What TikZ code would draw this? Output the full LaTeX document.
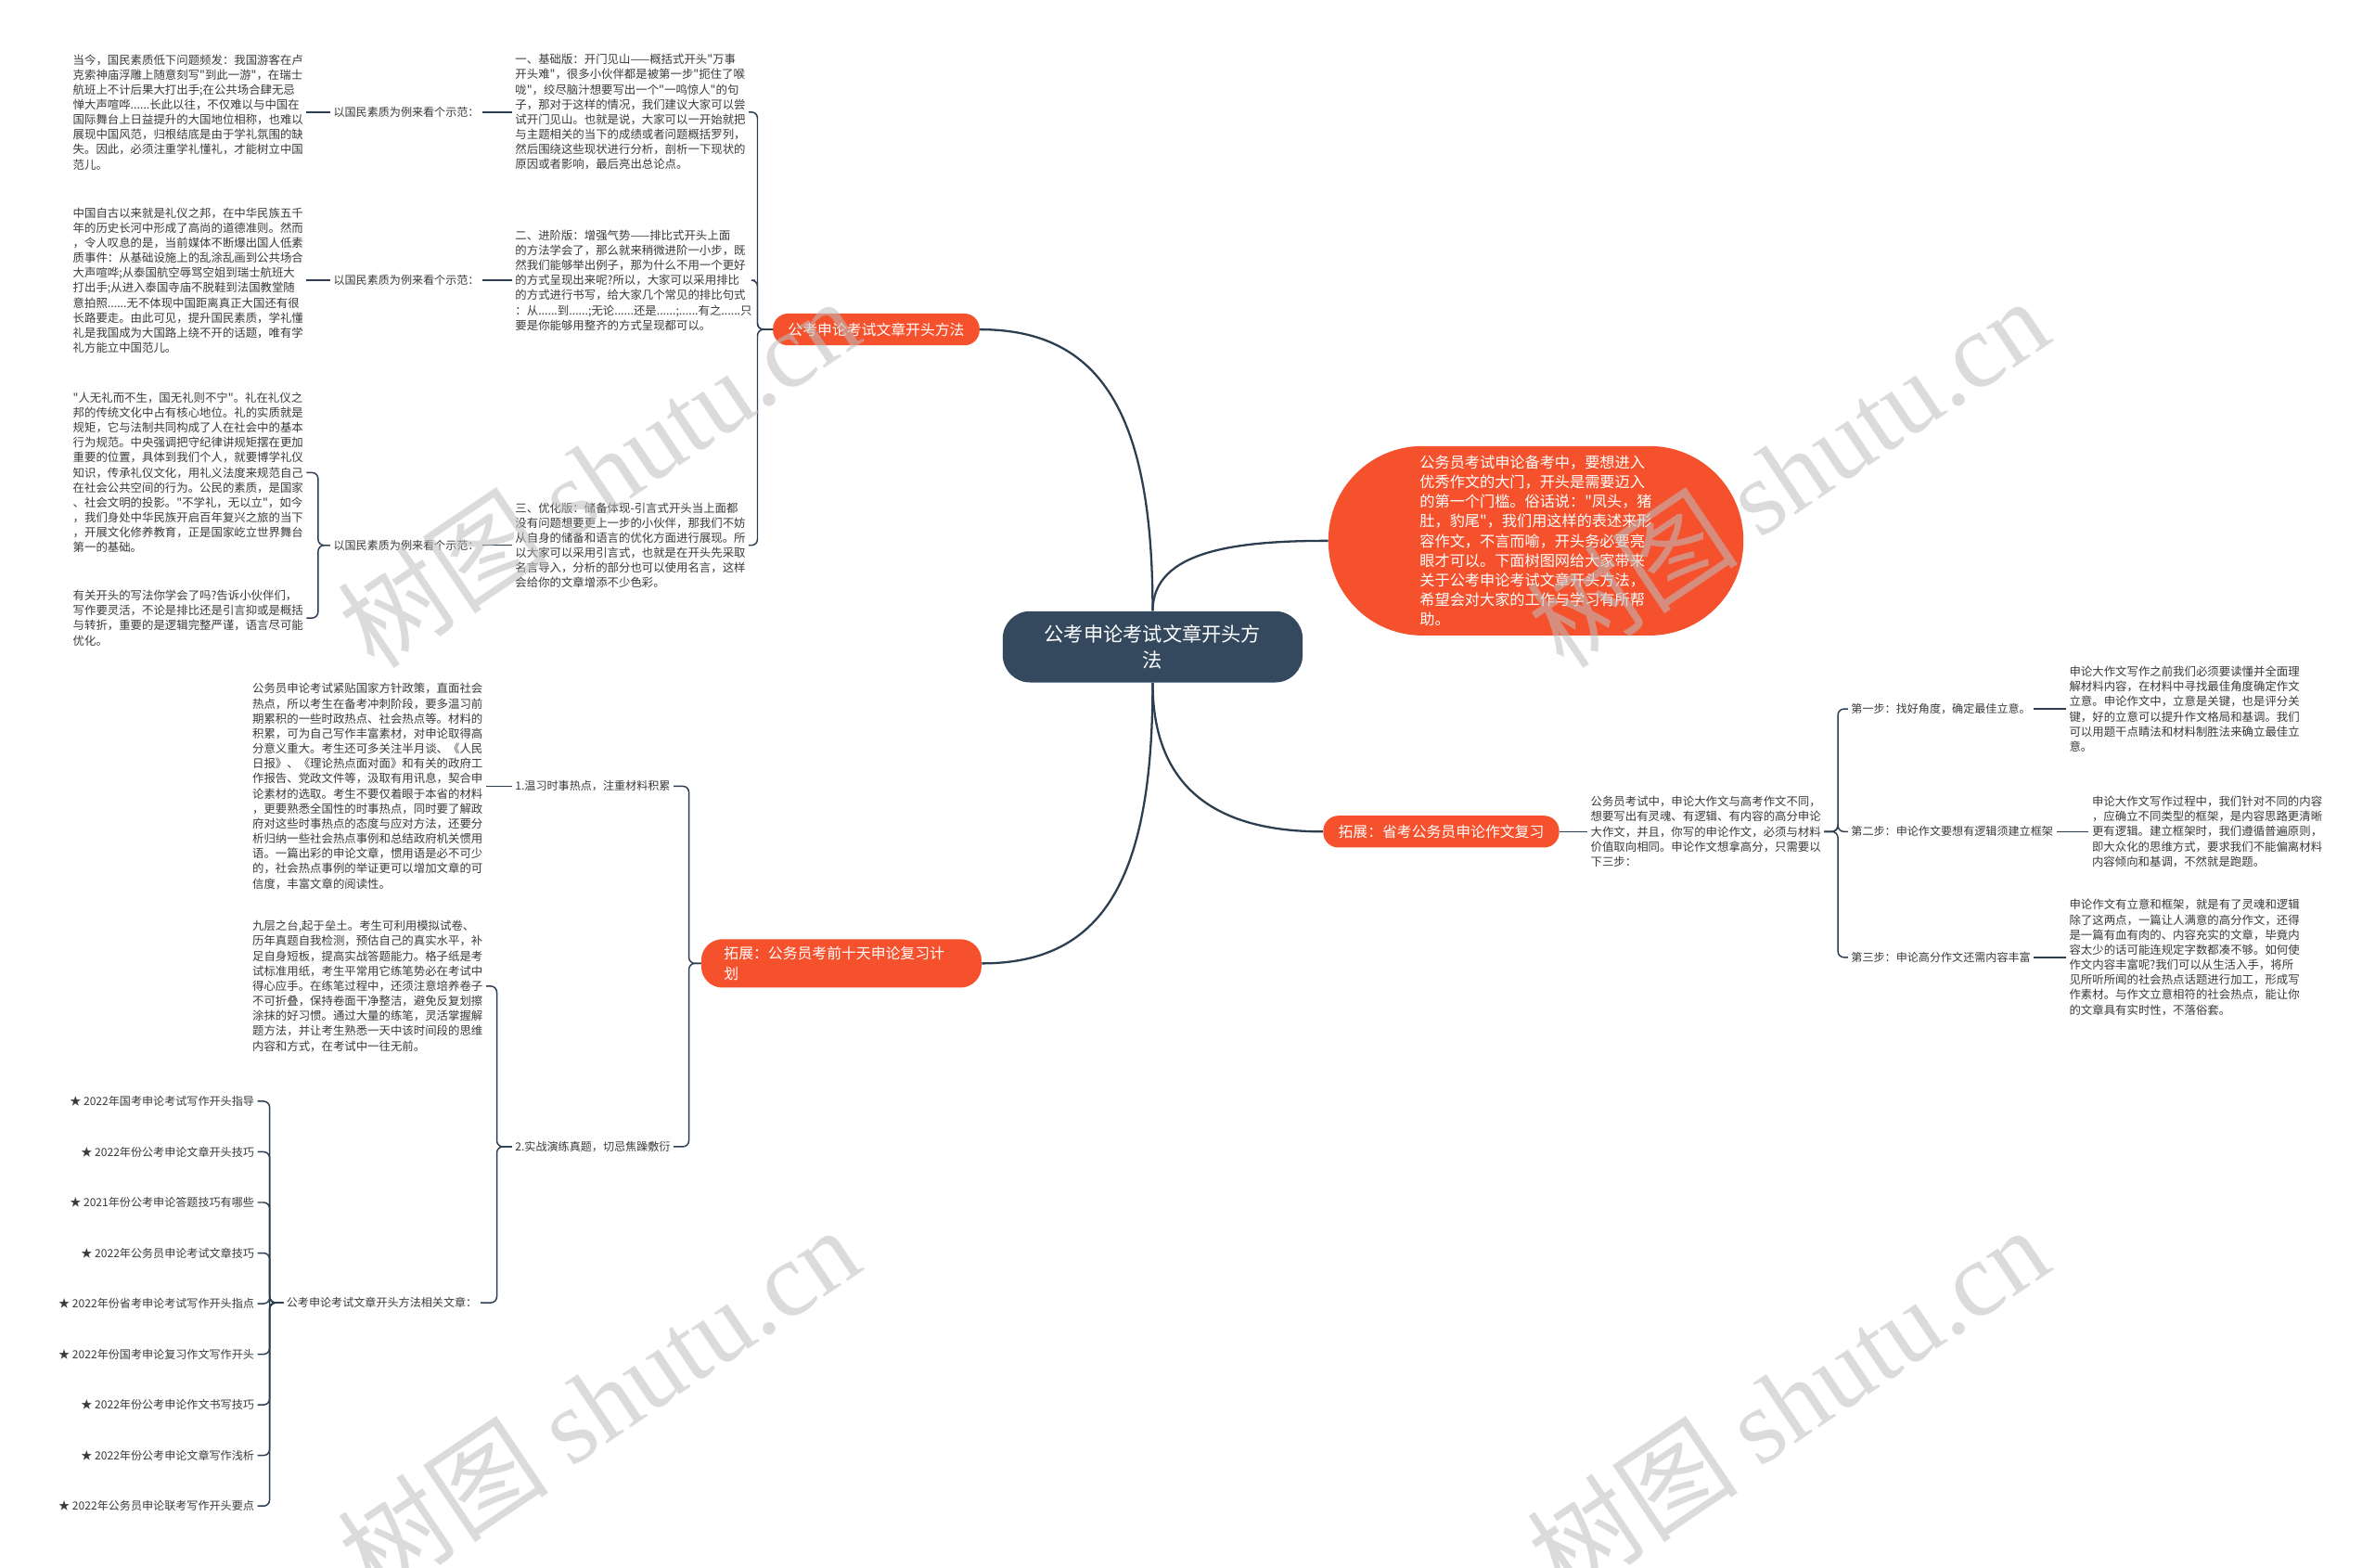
\documentclass[tikz,border=0pt]{standalone}
\usepackage{fontspec}
\setmainfont{Noto Sans CJK SC}[Ligatures=TeXOff]
\newfontfamily\wmlatin{Liberation Serif}
\usetikzlibrary{calc}
\definecolor{rootblue}{HTML}{34495E}
\definecolor{branchred}{HTML}{F5512D}
\definecolor{linkgray}{HTML}{2C3E50}
\definecolor{textgray}{HTML}{3A3A3A}

\tikzset{
  rootbox/.style={fill=rootblue, text=white, rounded corners=18pt, minimum width=198pt,
    minimum height=47pt, align=center, font=\fontsize{13}{17}\selectfont},
  branchbox/.style={fill=branchred, text=white, rounded corners=10pt, inner xsep=10pt,
    minimum height=21pt, font=\fontsize{9.7}{14}\selectfont},
  pillbox/.style={fill=branchred, text=white, rounded corners=62pt, minimum width=274pt,
    minimum height=125pt, align=left, font=\fontsize{9.9}{13}\selectfont},
  notebox/.style={text=textgray, align=left, inner sep=2pt, font=\fontsize{7.6}{9.9}\selectfont},
  tagbox/.style={text=textgray, inner sep=2pt, font=\fontsize{7.4}{9.9}\selectfont},
  trunk/.style={draw=linkgray, line width=1.4pt},
  twig/.style={draw=linkgray, line width=0.9pt, rounded corners=4pt},
  stamp/.style={text=black!25, opacity=0.55, rotate=34, font=\fontsize{70}{70}\selectfont}
}

\begin{document}
\begin{tikzpicture}[x=1pt, y=-1pt]
    \useasboundingbox (0,0) rectangle (1568,1035);
    \fill[white] (0,0) rectangle (1568,1035);

    \node[rootbox] (root) at (761,427) {公考申论考试文章开头方\\法};
    \node[pillbox] (intro) at (1014,357) {公务员考试申论备考中，要想进入\\优秀作文的大门，开头是需要迈入\\的第一个门槛。俗话说："凤头，猪\\肚，豹尾"，我们用这样的表述来形\\容作文，不言而喻，开头务必要亮\\眼才可以。下面树图网给大家带来\\关于公考申论考试文章开头方法，\\希望会对大家的工作与学习有所帮\\助。};
    \node[branchbox] (open) at (578.5,217.5) {公考申论考试文章开头方法};
    \node[branchbox, text width=155pt, align=left, inner xsep=15pt, minimum height=32pt,
      rounded corners=14pt] (plan) at (555.5,636) {拓展：公务员考前十天申论复习计\\划};
    \node[branchbox] (prov) at (951.5,549) {拓展：省考公务员申论作文复习};

    % opening methods
    \node[notebox, anchor=west] (way1) at (338,74) {一、基础版：开门见山——概括式开头"万事\\开头难"，很多小伙伴都是被第一步"扼住了喉\\咙"，绞尽脑汁想要写出一个"一鸣惊人"的句\\子，那对于这样的情况，我们建议大家可以尝\\试开门见山。也就是说，大家可以一开始就把\\与主题相关的当下的成绩或者问题概括罗列，\\然后围绕这些现状进行分析，剖析一下现状的\\原因或者影响，最后亮出总论点。};
    \node[notebox, anchor=west] (way2) at (338,185) {二、进阶版：增强气势——排比式开头上面\\的方法学会了，那么就来稍微进阶一小步，既\\然我们能够举出例子，那为什么不用一个更好\\的方式呈现出来呢?所以，大家可以采用排比\\的方式进行书写，给大家几个常见的排比句式\\：从......到......;无论......还是......;......有之......只\\要是你能够用整齐的方式呈现都可以。};
    \node[notebox, anchor=west] (way3) at (338,360) {三、优化版：储备体现-引言式开头当上面都\\没有问题想要更上一步的小伙伴，那我们不妨\\从自身的储备和语言的优化方面进行展现。所\\以大家可以采用引言式，也就是在开头先采取\\名言导入，分析的部分也可以使用名言，这样\\会给你的文章增添不少色彩。};
    \node[tagbox, anchor=west] (demo1) at (218,74) {以国民素质为例来看个示范：};
    \node[tagbox, anchor=west] (demo2) at (218,185) {以国民素质为例来看个示范：};
    \node[tagbox, anchor=west] (demo3) at (218,360) {以国民素质为例来看个示范：};
    \node[notebox, anchor=west] (case1) at (46,74) {当今，国民素质低下问题频发：我国游客在卢\\克索神庙浮雕上随意刻写"到此一游"，在瑞士\\航班上不计后果大打出手;在公共场合肆无忌\\惮大声喧哗......长此以往，不仅难以与中国在\\国际舞台上日益提升的大国地位相称，也难以\\展现中国风范，归根结底是由于学礼氛围的缺\\失。因此，必须注重学礼懂礼，才能树立中国\\范儿。};
    \node[notebox, anchor=west] (case2) at (46,185) {中国自古以来就是礼仪之邦，在中华民族五千\\年的历史长河中形成了高尚的道德准则。然而\\，令人叹息的是，当前媒体不断爆出国人低素\\质事件：从基础设施上的乱涂乱画到公共场合\\大声喧哗;从泰国航空辱骂空姐到瑞士航班大\\打出手;从进入泰国寺庙不脱鞋到法国教堂随\\意拍照......无不体现中国距离真正大国还有很\\长路要走。由此可见，提升国民素质，学礼懂\\礼是我国成为大国路上绕不开的话题，唯有学\\礼方能立中国范儿。};
    \node[notebox, anchor=west] (case3) at (46,312) {"人无礼而不生，国无礼则不宁"。礼在礼仪之\\邦的传统文化中占有核心地位。礼的实质就是\\规矩，它与法制共同构成了人在社会中的基本\\行为规范。中央强调把守纪律讲规矩摆在更加\\重要的位置，具体到我们个人，就要博学礼仪\\知识，传承礼仪文化，用礼义法度来规范自己\\在社会公共空间的行为。公民的素质，是国家\\、社会文明的投影。"不学礼，无以立"，如今\\，我们身处中华民族开启百年复兴之旅的当下\\，开展文化修养教育，正是国家屹立世界舞台\\第一的基础。};
    \node[notebox, anchor=west] (case4) at (46,408) {有关开头的写法你学会了吗?告诉小伙伴们，\\写作要灵活，不论是排比还是引言抑或是概括\\与转折，重要的是逻辑完整严谨，语言尽可能\\优化。};

    % review plan
    \node[tagbox, anchor=west] (hot) at (338,519) {1.温习时事热点，注重材料积累};
    \node[tagbox, anchor=west] (drill) at (338,757) {2.实战演练真题，切忌焦躁敷衍};
    \node[notebox, anchor=west] (tip1) at (164.5,519) {公务员申论考试紧贴国家方针政策，直面社会\\热点，所以考生在备考冲刺阶段，要多温习前\\期累积的一些时政热点、社会热点等。材料的\\积累，可为自己写作丰富素材，对申论取得高\\分意义重大。考生还可多关注半月谈、《人民\\日报》、《理论热点面对面》和有关的政府工\\作报告、党政文件等，汲取有用讯息，契合申\\论素材的选取。考生不要仅着眼于本省的材料\\，更要熟悉全国性的时事热点，同时要了解政\\府对这些时事热点的态度与应对方法，还要分\\析归纳一些社会热点事例和总结政府机关惯用\\语。一篇出彩的申论文章，惯用语是必不可少\\的，社会热点事例的举证更可以增加文章的可\\信度，丰富文章的阅读性。};
    \node[notebox, anchor=west] (tip2) at (164.5,651) {九层之台,起于垒土。考生可利用模拟试卷、\\历年真题自我检测，预估自己的真实水平，补\\足自身短板，提高实战答题能力。格子纸是考\\试标准用纸，考生平常用它练笔势必在考试中\\得心应手。在练笔过程中，还须注意培养卷子\\不可折叠，保持卷面干净整洁，避免反复划擦\\涂抹的好习惯。通过大量的练笔，灵活掌握解\\题方法，并让考生熟悉一天中该时间段的思维\\内容和方式，在考试中一往无前。};
    \node[tagbox, anchor=west] (rel) at (187,860) {公考申论考试文章开头方法相关文章：};
    \foreach \lnk [count=\i] in {★ 2022年国考申论考试写作开头指导, ★ 2022年份公考申论文章开头技巧,
        ★ 2021年份公考申论答题技巧有哪些, ★ 2022年公务员申论考试文章技巧,
        ★ 2022年份省考申论考试写作开头指点, ★ 2022年份国考申论复习作文写作开头,
        ★ 2022年份公考申论作文书写技巧, ★ 2022年份公考申论文章写作浅析,
        ★ 2022年公务员申论联考写作开头要点}
        \node[tagbox, anchor=east] (art\i) at (170,{693.6+33.4*\i}) {\lnk};

    % provincial essay
    \node[notebox, anchor=west] (essay) at (1048,549) {公务员考试中，申论大作文与高考作文不同，\\想要写出有灵魂、有逻辑、有内容的高分申论\\大作文，并且，你写的申论作文，必须与材料\\价值取向相同。申论作文想拿高分，只需要以\\下三步：};
    \node[tagbox, anchor=west] (s1) at (1220,468) {第一步：找好角度，确定最佳立意。};
    \node[tagbox, anchor=west] (s2) at (1220,549) {第二步：申论作文要想有逻辑须建立框架};
    \node[tagbox, anchor=west] (s3) at (1220,632) {第三步：申论高分作文还需内容丰富};
    \node[notebox, anchor=west] (d1) at (1364,468) {申论大作文写作之前我们必须要读懂并全面理\\解材料内容，在材料中寻找最佳角度确定作文\\立意。申论作文中，立意是关键，也是评分关\\键，好的立意可以提升作文格局和基调。我们\\可以用题干点睛法和材料制胜法来确立最佳立\\意。};
    \node[notebox, anchor=west] (d2) at (1379,549) {申论大作文写作过程中，我们针对不同的内容\\，应确立不同类型的框架，是内容思路更清晰\\更有逻辑。建立框架时，我们遵循普遍原则，\\即大众化的思维方式，要求我们不能偏离材料\\内容倾向和基调，不然就是跑题。};
    \node[notebox, anchor=west] (d3) at (1364,632) {申论作文有立意和框架，就是有了灵魂和逻辑\\除了这两点，一篇让人满意的高分作文，还得\\是一篇有血有肉的、内容充实的文章，毕竟内\\容太少的话可能连规定字数都凑不够。如何使\\作文内容丰富呢?我们可以从生活入手，将所\\见所听所闻的社会热点话题进行加工，形成写\\作素材。与作文立意相符的社会热点，能让你\\的文章具有实时性，不落俗套。};

    \draw[trunk] (root.north) .. controls +(0,-130) and +(80,0) .. (open.east);
    \draw[trunk] (root.north) .. controls +(0,-40) and +(-60,0) .. (intro.west);
    \draw[trunk] (root.south) .. controls +(0,130) and +(80,0) .. (plan.east);
    \draw[trunk] (root.south) .. controls +(0,70) and +(-70,0) .. (prov.west);

    \foreach \w in {way1,way2,way3}
        \draw[twig] (open.west) -- ++(-10,0) |- (\w.east);
    \draw[twig] (way1.west) -- (demo1.east);
    \draw[twig] (way2.west) -- (demo2.east);
    \draw[twig] (way3.west) -- (demo3.east);
    \draw[twig] (demo1.west) -- (case1.east);
    \draw[twig] (demo2.west) -- (case2.east);
    \draw[twig] (demo3.west) -- ++(-8,0) |- (case3.east);
    \draw[twig] (demo3.west) -- ++(-8,0) |- (case4.east);

    \draw[twig] (plan.west) -- ++(-8,0) |- (hot.east);
    \draw[twig] (plan.west) -- ++(-8,0) |- (drill.east);
    \draw[twig] (hot.west) -- (tip1.east);
    \draw[twig] (drill.west) -- ++(-10,0) |- (tip2.east);
    \draw[twig] (drill.west) -- ++(-10,0) |- (rel.east);
    \foreach \i in {1,...,9}
        \draw[twig] (rel.west) -- ++(-9,0) |- (art\i.east);

    \draw[twig] (prov.east) -- (essay.west);
    \foreach \i in {1,2,3} {
        \draw[twig] (essay.east) -- ++(9,0) |- (s\i.west);
        \draw[twig] (s\i.east) -- (d\i.west);
    }

    \node[stamp] (wm1) at (395,312) {树图 {\wmlatin shutu.cn}};
    \node[stamp] (wm2) at (1180,312) {树图 {\wmlatin shutu.cn}};
    \node[stamp] (wm3) at (395,925) {树图 {\wmlatin shutu.cn}};
    \node[stamp] (wm4) at (1180,925) {树图 {\wmlatin shutu.cn}};
\end{tikzpicture}
\end{document}
